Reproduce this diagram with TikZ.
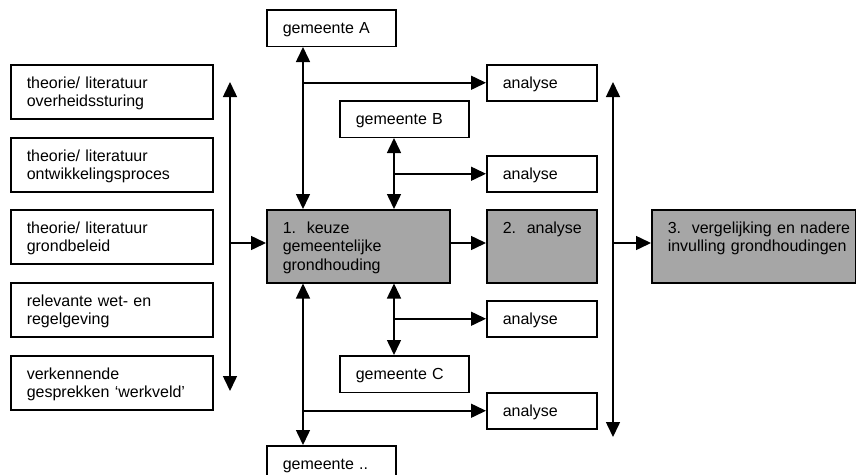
\documentclass[tikz,border=0pt]{standalone}
\usepackage{fontspec}
\setmainfont{Liberation Sans}
\usetikzlibrary{arrows.meta}
\definecolor{boxgray}{RGB}{166,166,166}
\begin{document}
\begin{tikzpicture}[x=1pt,y=-1pt,
  line width=1.5pt,
  >={Triangle[length=15pt,width=14pt]},
  box/.style={draw, line width=1.5pt, fill=white, anchor=north west,
    inner xsep=16pt, inner ysep=0pt, align=left, text height=23.5pt,
    font=\fontsize{16}{18.4}\selectfont},
  shaded/.style={box, fill=boxgray, text depth=49.5pt},
  source/.style={box, text width=170pt, text depth=30.5pt},
  town/.style={box, text width=97pt, text depth=13pt},
  study/.style={box, text width=78pt, text depth=12.5pt}]
\useasboundingbox (0,0) rectangle (856,474);
\clip (0,0) rectangle (856,474);

% sources feeding step 1
\node[source] (t1) at (10,64)  {theorie/ literatuur\\overheidssturing};
\node[source] (t2) at (10,137) {theorie/ literatuur\\ontwikkelingsproces};
\node[source] (t3) at (10,209) {theorie/ literatuur\\grondbeleid};
\node[source] (t4) at (10,282) {relevante wet- en\\regelgeving};
\node[source] (t5) at (10,355) {verkennende\\gesprekken ‘werkveld’};

% the three main steps
\node[shaded, text width=151pt] (keuze) at (266,209) {1.~~keuze\\gemeentelijke\\grondhouding};
\node[shaded, text width=78pt] (ana) at (486,209) {\mbox{2.~~analyse}};
\node[shaded, text width=172pt] (verg) at (651,209)
  {\mbox{3.~~vergelijking en nadere}\\\mbox{invulling grondhoudingen}};

% municipalities
\node[town] (gA) at (266,9)   {gemeente A};
\node[town] (gB) at (339,100) {gemeente B};
\node[town] (gC) at (339,355) {gemeente C};
\node[town] (gD) at (266,445) {gemeente ..};

% analyses per municipality
\node[study] (an1) at (486,64)  {analyse};
\node[study] (an2) at (486,155) {analyse};
\node[study] (an3) at (486,300) {analyse};
\node[study] (an4) at (486,392) {analyse};

% connector columns and bracket ends
\coordinate (colA) at (303,0);
\coordinate (colB) at (394,0);
\coordinate (ltop) at (230,82);
\coordinate (lbot) at (230,391);
\coordinate (lmid) at (230,243);
\coordinate (rtop) at (613,82);
\coordinate (rbot) at (613,437);
\coordinate (rmid) at (613,243);

% left and right brackets
\draw[<->] (ltop) -- (lbot);
\draw[->] (lmid) -- (lmid -| keuze.west);
\draw[->] (keuze.east |- lmid) -- (ana.west |- lmid);
\draw[<->] (rtop) -- (rbot);
\draw[->] (rmid) -- (rmid -| verg.west);

% municipalities linked to step 1, branching to their analyses
\draw[<->] (colA |- gA.south) -- (colA |- keuze.north);
\draw[->] (colA |- an1.west) -- (an1.west);
\draw[<->] (colB |- gB.south) -- (colB |- keuze.north);
\draw[->] (colB |- an2.west) -- (an2.west);
\draw[<->] (colB |- keuze.south) -- (colB |- gC.north);
\draw[->] (colB |- an3.west) -- (an3.west);
\draw[<->] (colA |- keuze.south) -- (colA |- gD.north);
\draw[->] (colA |- an4.west) -- (an4.west);
\end{tikzpicture}
\end{document}
